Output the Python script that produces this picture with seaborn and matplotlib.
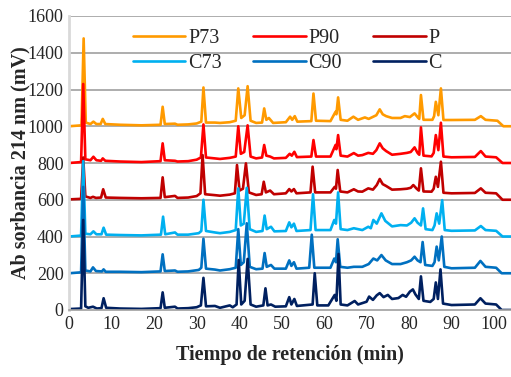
import numpy as np
import pandas as pd
import matplotlib
matplotlib.use("Agg")
import matplotlib.pyplot as plt
import seaborn as sns

# ---- data (retention time in min, signal in mV, before vertical offset) ----
series = ["P73", "P90", "P", "C73", "C90", "C"]
offsets = [1000, 800, 600, 400, 200, 0]
colors = ["#FF9A00", "#FF0000", "#C00000", "#00B0F0", "#0070C0", "#002060"]

p73_t = [0, 2.9, 3.4, 3.9, 5.0, 5.7, 6.4, 7.4, 7.9, 8.5, 12, 17, 21.5, 22.0, 22.5, 24.9, 25.5, 28, 30, 31.1, 31.6, 32.2,
         34.3, 35.5, 37.8, 39.2, 39.8, 40.5, 41.3, 42.0, 42.7, 44, 45.4, 45.9, 46.4, 47.0, 48.0, 51, 52.0, 52.5, 53.1, 53.7,
         57.0, 57.5, 58.1, 61.5, 62.7, 62.9, 63.3, 63.9, 65.5, 66.9, 68, 69.6, 70.5, 72.3, 73.1, 73.8, 74.6, 76, 78, 79.0,
         80.2, 81.3, 82, 82.4, 82.8, 83.4, 85.5, 85.9, 86.3, 86.9, 87.5, 88.1, 90, 95.5, 96.9, 98, 100.8, 102.2, 104]
p73_v = [0, 5, 478, 20, 12, 25, 12, 12, 40, 12, 8, 5, 8, 106, 12, 14, 8, 10, 15, 25, 211, 20,
         20, 18, 22, 30, 206, 45, 60, 218, 30, 18, 20, 97, 35, 45, 18, 22, 52, 35, 55, 25,
         28, 178, 30, 28, 79, 65, 157, 35, 30, 52, 35, 48, 40, 60, 92, 65, 55, 45, 45, 55,
         50, 70, 50, 40, 170, 35, 35, 55, 133, 60, 206, 34, 34, 35, 55, 35, 30, 0, 0]

p90_t = [0, 2.8, 3.3, 3.8, 5.0, 5.7, 6.4, 7.5, 7.9, 8.5, 12, 17, 21.5, 22.0, 22.5, 24.9, 25.5, 28, 30, 31.0, 31.6, 32.2,
         34.3, 35.5, 37.8, 39.2, 39.8, 40.4, 41.2, 42.0, 42.7, 44, 45.4, 45.9, 46.4, 47.3, 48.2, 51, 51.9, 52.4, 53.0, 53.6,
         57.0, 57.5, 58.1, 61.5, 62.7, 62.9, 63.3, 63.9, 65.5, 67.0, 68, 69, 70.4, 71.5, 72.3, 73.1, 73.8, 74.6, 76, 78,
         79.5, 80.4, 81.3, 82, 82.4, 82.8, 83.4, 85.3, 85.8, 86.3, 86.9, 87.5, 88.1, 90, 95.5, 96.9, 98, 100.5, 102.0, 104]
p90_v = [0, 5, 430, 20, 15, 34, 15, 12, 25, 12, 8, 5, 10, 107, 15, 12, 8, 10, 18, 30, 210, 30,
         25, 22, 28, 35, 200, 50, 60, 205, 35, 25, 30, 98, 40, 35, 25, 28, 50, 40, 61, 32,
         35, 125, 35, 35, 98, 75, 152, 40, 35, 54, 40, 43, 55, 50, 70, 107, 80, 65, 45, 50,
         55, 60, 85, 55, 45, 194, 40, 36, 55, 152, 70, 219, 35, 31, 33, 65, 35, 31, 0, 0]

p_t = [0, 2.8, 3.3, 3.8, 5.0, 5.6, 6.3, 7.5, 8.0, 8.6, 12, 17, 21.5, 22.0, 22.5, 24.9, 25.5, 28, 30, 30.9, 31.4, 32.0,
       34.3, 35.5, 37.8, 39.0, 39.5, 40.1, 40.9, 41.6, 42.3, 44, 45.3, 45.8, 46.3, 47.3, 48.2, 51, 51.8, 52.3, 52.9, 53.5,
       56.8, 57.3, 57.9, 61.5, 62.5, 62.8, 63.2, 63.8, 65.5, 67.0, 68, 69, 70.4, 71.5, 72.4, 73.1, 73.8, 74.6, 76, 78,
       79.5, 80.4, 81.0, 81.8, 82.3, 82.8, 83.4, 85.3, 85.8, 86.3, 86.8, 87.5, 88.1, 90, 95.5, 96.9, 98, 100.5, 102.0, 104]
p_v = [2, 5, 230, 18, 10, 16, 10, 12, 57, 12, 10, 8, 10, 122, 14, 21, 10, 12, 20, 35, 243, 30,
       25, 22, 28, 35, 189, 50, 60, 198, 40, 26, 30, 98, 40, 50, 30, 35, 58, 45, 58, 35,
       40, 180, 40, 40, 70, 60, 162, 45, 40, 57, 45, 44, 62, 55, 80, 113, 85, 75, 55, 57,
       60, 65, 80, 60, 50, 171, 45, 44, 60, 125, 70, 207, 38, 35, 37, 62, 38, 35, 0, 0]

c73_t = [0, 2.8, 3.3, 3.8, 5.0, 5.7, 6.4, 7.6, 8.1, 8.7, 12, 17, 21.6, 22.1, 22.6, 24.9, 25.5, 28, 30.5, 31.1, 31.6, 32.2,
         34.3, 35.5, 37.8, 39.2, 39.8, 40.4, 41.1, 41.8, 42.5, 44, 45.5, 46.0, 46.5, 47.5, 48.3, 51, 51.8, 52.3, 52.9, 53.5,
         56.8, 57.4, 58.0, 61.5, 62.4, 62.8, 63.3, 63.9, 65.5, 67.0, 69, 70.4, 71.0, 71.6, 72.4, 73.5, 74.4, 76, 78,
         79.5, 80.5, 81.3, 82, 82.8, 83.3, 83.9, 85.5, 86.0, 86.5, 87.1, 87.8, 88.4, 90, 95.5, 96.9, 98, 100.5, 102.0, 104]
c73_v = [0, 5, 410, 15, 12, 28, 12, 12, 48, 10, 8, 6, 10, 108, 12, 22, 10, 10, 18, 30, 200, 30,
         22, 18, 25, 35, 262, 60, 70, 265, 40, 25, 30, 114, 40, 53, 28, 30, 77, 50, 70, 30,
         35, 230, 35, 35, 90, 70, 240, 40, 35, 45, 35, 53, 45, 90, 70, 126, 85, 55, 62,
         60, 75, 99, 75, 60, 153, 40, 35, 60, 126, 70, 198, 35, 31, 33, 57, 35, 31, 0, 0]

c90_t = [0, 2.8, 3.3, 3.8, 5.0, 5.6, 6.3, 7.7, 8.1, 8.6, 12, 17, 21.5, 22.0, 22.5, 24.9, 25.5, 28, 30.5, 31.1, 31.6, 32.2,
         34.3, 35.5, 37.8, 39.2, 39.8, 40.4, 41.1, 41.8, 42.5, 44, 45.5, 46.0, 46.5, 47.5, 48.3, 51, 51.8, 52.3, 52.9, 53.5,
         56.5, 57.1, 57.7, 61.5, 62.4, 62.8, 63.2, 63.8, 65.5, 67.0, 69, 70.5, 71.6, 72.5, 73.5, 74.5, 76, 78,
         79.5, 80.5, 81.3, 82, 82.7, 83.2, 83.8, 85.5, 86.0, 86.5, 87.0, 87.7, 88.3, 90, 95.5, 96.8, 98, 100.5, 101.8, 104]
c90_v = [0, 5, 470, 15, 10, 32, 12, 10, 21, 8, 8, 6, 10, 103, 12, 15, 8, 10, 18, 30, 188, 25,
         20, 15, 22, 30, 240, 45, 60, 272, 35, 22, 25, 110, 35, 45, 25, 25, 70, 40, 60, 25,
         30, 210, 30, 30, 80, 60, 185, 35, 30, 35, 35, 50, 80, 70, 99, 70, 50, 50,
         60, 70, 90, 70, 60, 170, 45, 40, 60, 145, 70, 200, 35, 27, 30, 67, 35, 30, 0, 0]

c_t = [0, 2.8, 3.3, 3.8, 4.5, 5.6, 6.5, 7.6, 8.1, 8.7, 12, 17, 21.5, 22.0, 22.5, 24.9, 25.5, 28, 30, 31.0, 31.6, 32.2,
       34.3, 35.5, 37.8, 38.5, 39.4, 39.9, 40.5, 41.3, 42.0, 42.7, 44, 45.7, 46.2, 46.7, 47.5, 48.5, 51, 51.8, 52.3, 53.0, 53.6,
       57.3, 57.8, 58.4, 61, 62.5, 62.9, 63.4, 63.9, 65.5, 67.2, 68, 70, 70.6, 71.5, 72.4, 73.1, 74, 75, 76, 77.5,
       78.5, 79.3, 80.2, 80.9, 81.5, 82.3, 82.8, 83.4, 85, 85.8, 86.3, 86.8, 87.4, 88.0, 90, 95.5, 96.8, 98, 100.5, 101.8, 104]
c_v = [5, 8, 490, 20, 12, 18, 8, 10, 64, 12, 8, 6, 10, 96, 12, 18, 8, 10, 15, 25, 175, 20,
       22, 12, 25, 15, 30, 272, 30, 50, 278, 30, 18, 25, 118, 25, 30, 18, 20, 70, 30, 60, 22,
       30, 200, 25, 25, 82, 50, 305, 30, 25, 49, 30, 45, 73, 55, 80, 92, 70, 82, 60, 65,
       82, 72, 100, 112, 85, 60, 183, 50, 44, 60, 150, 60, 221, 35, 27, 30, 64, 35, 30, 0, 0]

times = [p73_t, p90_t, p_t, c73_t, c90_t, c_t]
values = [p73_v, p90_v, p_v, c73_v, c90_v, c_v]

frames = []
for name, off, t, v in zip(series, offsets, times, values):
    frames.append(pd.DataFrame({"t": t, "mV": np.asarray(v, float) + off, "serie": name}))
df = pd.concat(frames, ignore_index=True)

# ---- figure ----
sns.set_theme(style="white")
plt.rcParams["font.family"] = ["Liberation Serif", "DejaVu Serif"]

fig = plt.figure(figsize=(5.11, 3.77), dpi=100)
ax = fig.add_axes([69.2 / 511, 1 - 310 / 377, 1 - 69.2 / 511, (310 - 16) / 377])

for y in range(200, 1601, 200):
    ax.axhline(y, color="#A0A0A0", lw=1.2, zorder=0)

sns.lineplot(data=df, x="t", y="mV", hue="serie", hue_order=series,
             palette=dict(zip(series, colors)), sort=False, estimator=None,
             lw=1.9, ax=ax, legend=True)

ax.set_xlim(0, 104)
ax.set_ylim(0, 1600)
ax.set_xticks(range(0, 101, 10))
ax.set_yticks(range(0, 1601, 200))
ax.tick_params(axis="both", length=0, labelsize=13, pad=4)
for s in ["top", "right"]:
    ax.spines[s].set_visible(False)
ax.spines["left"].set_color("#D9D9D9")
ax.spines["left"].set_linewidth(2)
ax.spines["bottom"].set_color("#A0A0A0")
ax.spines["bottom"].set_linewidth(1.2)

ax.set_xlabel("Tiempo de retención (min)", fontsize=14.5, fontweight="bold", labelpad=9)
ax.set_ylabel("Ab sorbancia 214 nm (mV)", fontsize=14.5, fontweight="bold")
ax.yaxis.set_label_coords(-0.088, 0.5)

h, l = ax.get_legend_handles_labels()
idx = {lab: i for i, lab in enumerate(l)}
order = ["P73", "C73", "P90", "C90", "P", "C"]  # column-major fill -> row-wise appearance
ax.legend([h[idx[o]] for o in order], order, ncol=3, loc="upper left",
          bbox_to_anchor=(0.126, 0.984), frameon=False,
          fontsize=14.5, handlelength=2.6, handletextpad=0.15, columnspacing=1.55,
          labelspacing=0.3, borderaxespad=0)

fig.savefig("out.png", dpi=100)
